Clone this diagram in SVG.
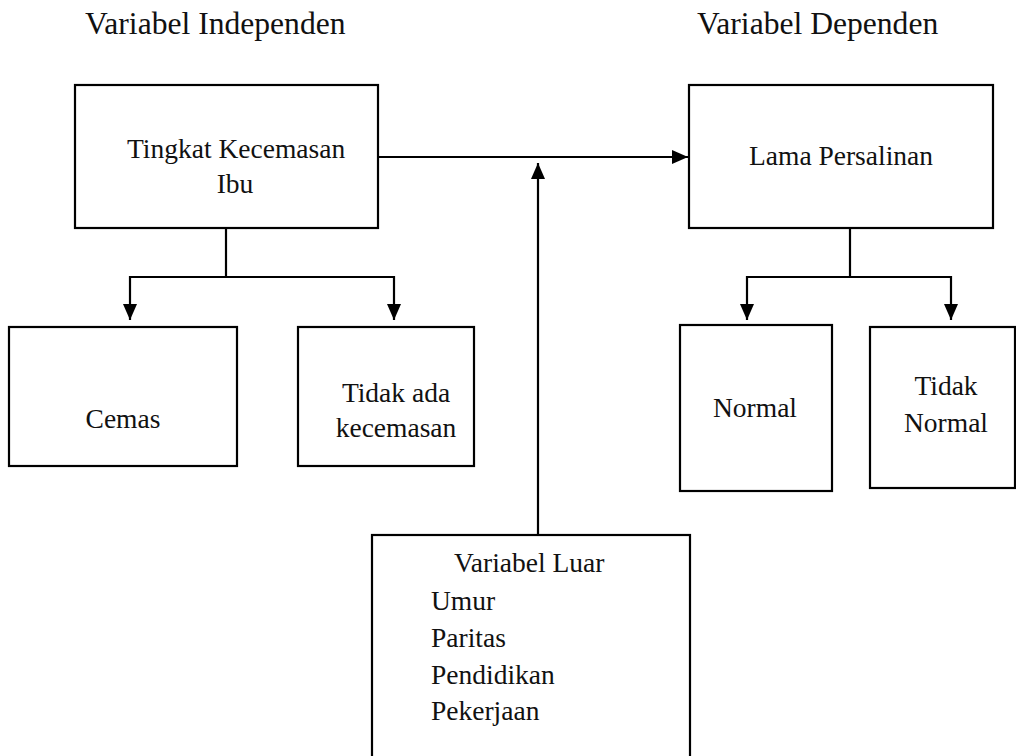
<svg xmlns="http://www.w3.org/2000/svg" width="1016" height="756" viewBox="0 0 1016 756">
<style>
.box{fill:#fff;stroke:#000;stroke-width:2.2}
.ln{fill:none;stroke:#000;stroke-width:2.2}
.c{text-anchor:middle}
</style>
<defs>
<marker id="ah" markerWidth="16" markerHeight="14" refX="16" refY="7" orient="auto" markerUnits="userSpaceOnUse">
<path d="M0,0 L16,7 L0,14 Z" fill="#000"/>
</marker>
</defs>
<rect width="1016" height="756" fill="#fff"/>
<g font-family="'Liberation Serif', 'DejaVu Serif', serif" fill="#111" font-size="27.5">
<text font-size="31.6" x="85" y="34">Variabel Independen</text>
<text font-size="31.6" x="697" y="34">Variabel Dependen</text>
</g>
<g id="connectors">
<line class="ln" x1="378" y1="157" x2="688" y2="157" marker-end="url(#ah)"/>
<line class="ln" x1="538" y1="535" x2="538" y2="163" marker-end="url(#ah)"/>
<polyline class="ln" points="226,228 226,277"/>
<polyline class="ln" points="130,277 394,277"/>
<line class="ln" x1="130" y1="276" x2="130" y2="320" marker-end="url(#ah)"/>
<line class="ln" x1="394" y1="276" x2="394" y2="320" marker-end="url(#ah)"/>
<polyline class="ln" points="850,228 850,277"/>
<polyline class="ln" points="747,277 951,277"/>
<line class="ln" x1="747" y1="276" x2="747" y2="320" marker-end="url(#ah)"/>
<line class="ln" x1="951" y1="276" x2="951" y2="320" marker-end="url(#ah)"/>
</g>
<g font-family="'Liberation Serif', 'DejaVu Serif', serif" fill="#111" font-size="27.5">
<g id="tingkat">
<rect class="box" x="75" y="85" width="303" height="143"/>
<text x="127" y="158">Tingkat Kecemasan</text>
<text class="c" x="235" y="193">Ibu</text>
</g>
<g id="lama">
<rect class="box" x="689" y="85" width="304" height="143"/>
<text class="c" x="841" y="165">Lama Persalinan</text>
</g>
<g id="cemas">
<rect class="box" x="9" y="327" width="228" height="139"/>
<text class="c" x="123" y="428">Cemas</text>
</g>
<g id="tidakada">
<rect class="box" x="298" y="327" width="176" height="139"/>
<text class="c" x="396" y="402">Tidak ada</text>
<text class="c" x="396" y="437">kecemasan</text>
</g>
<g id="normal">
<rect class="box" x="680" y="325" width="152" height="166"/>
<text class="c" x="755" y="417">Normal</text>
</g>
<g id="tidaknormal">
<rect class="box" x="870" y="327" width="145" height="161"/>
<text class="c" x="946" y="395">Tidak</text>
<text class="c" x="946" y="432">Normal</text>
</g>
<g id="luar">
<rect class="box" x="372" y="535" width="318" height="230"/>
<text x="454" y="572">Variabel Luar</text>
<text x="431" y="610">Umur</text>
<text x="431" y="647">Paritas</text>
<text x="431" y="684">Pendidikan</text>
<text x="431" y="720">Pekerjaan</text>
</g>
</g>
</svg>
